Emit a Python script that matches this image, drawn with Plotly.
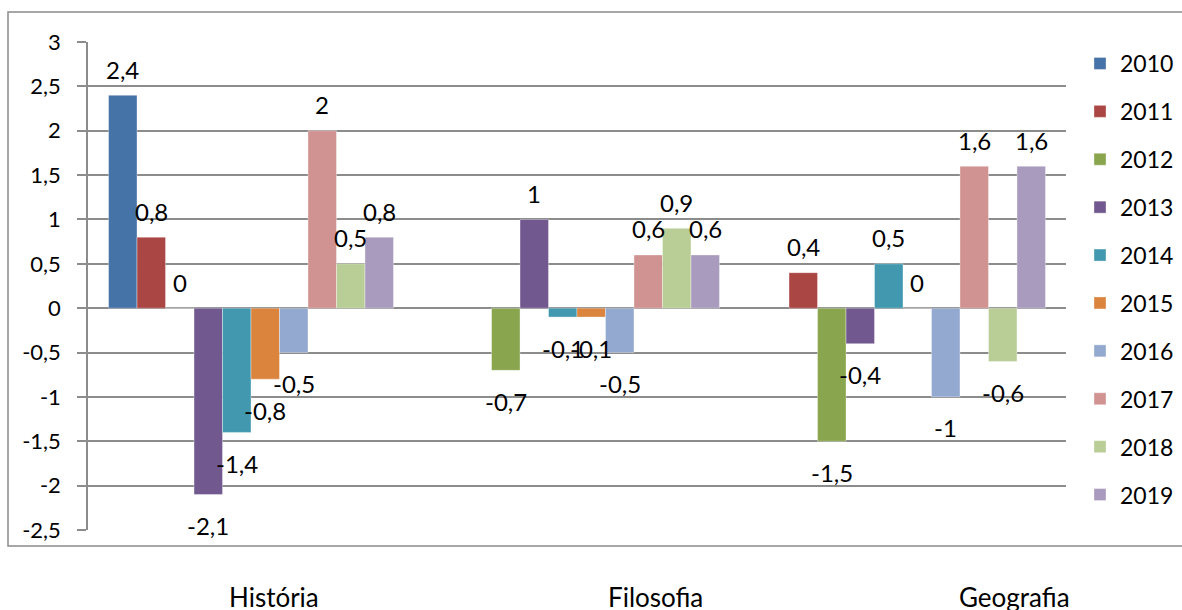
import plotly.graph_objects as go

# ---- data ----
categories = ["História", "Filosofia", "Geografia"]
years = ["2010", "2011", "2012", "2013", "2014", "2015", "2016", "2017", "2018", "2019"]
v2010 = [2.4, None, None]
v2011 = [0.8, None, 0.4]
v2012 = [0, -0.7, -1.5]
v2013 = [-2.1, 1, -0.4]
v2014 = [-1.4, -0.1, 0.5]
v2015 = [-0.8, -0.1, 0]
v2016 = [-0.5, -0.5, -1]
v2017 = [2, 0.6, 1.6]
v2018 = [0.5, 0.9, -0.6]
v2019 = [0.8, 0.6, 1.6]
series = [v2010, v2011, v2012, v2013, v2014, v2015, v2016, v2017, v2018, v2019]
colors = ["#4572A7", "#AA4643", "#89A54E", "#71588F", "#4198AF",
          "#DB843D", "#93A9CF", "#D19392", "#B9CD96", "#A99BBD"]
y_tickvals = [3, 2.5, 2, 1.5, 1, 0.5, 0, -0.5, -1, -1.5, -2, -2.5]
y_ticktext = ["3", "2,5", "2", "1,5", "1", "0,5", "0", "-0,5", "-1", "-1,5", "-2", "-2,5"]

# ---- layout constants ----
W, H = 1182, 610
ML, MR, MT, MB = 88, 116, 42, 80
PW, PH = W - ML - MR, H - MT - MB
BARGAP = 0.126
FONT = "Lato"
CAT_LABEL_X = [274, 655, 1014]   # pixel centres of the category captions below the frame
CAT_LABEL_Y = 597


def fmt(v):
    return ("%g" % v).replace(".", ",")


fig = go.Figure()
for name, vals, col in zip(years, series, colors):
    fig.add_trace(go.Bar(
        name=name, x=categories, y=vals, marker_color=col,
        marker_line=dict(color="rgba(255,255,255,0.45)", width=0.8),
        legendgroup=name,
    ))

# data labels (Excel style "outside end")
slot = PW / len(categories) * (1 - BARGAP) / len(series)
annotations = []
for i, (vals, name) in enumerate(zip(series, years)):
    for cat, v in zip(categories, vals):
        if v is None:
            continue
        annotations.append(dict(
            x=cat, y=v, xref="x", yref="y", text=fmt(v), showarrow=False,
            xshift=(i - (len(series) - 1) / 2) * slot,
            yshift=26 if v >= 0 else -31,
            font=dict(family=FONT, size=24, color="black"),
        ))

# category captions under the chart frame (pixel -> paper fractions)
for cat, px in zip(categories, CAT_LABEL_X):
    annotations.append(dict(
        x=(px - ML) / PW, y=(H - CAT_LABEL_Y - MB) / PH, xref="paper", yref="paper",
        text=cat, showarrow=False, xanchor="center", yanchor="middle",
        font=dict(family=FONT, size=26, color="black"),
    ))

# outer chart border (extends past right edge)
fig.add_shape(type="rect", xref="paper", yref="paper",
              x0=(8 - ML) / PW, x1=(W + 10 - ML) / PW,
              y0=(H - MB - 546) / PH, y1=(H - MB - 12) / PH,
              line=dict(color="#8a8a8a", width=1.5), fillcolor="rgba(0,0,0,0)",
              layer="below")

fig.update_layout(
    width=W, height=H,
    margin=dict(l=ML, r=MR, t=MT, b=MB, autoexpand=False),
    paper_bgcolor="white", plot_bgcolor="white",
    barmode="group", bargap=BARGAP, bargroupgap=0,
    font=dict(family=FONT, color="black"),
    annotations=annotations,
    showlegend=True,
    legend=dict(
        xref="container", yref="container",
        x=1080 / W, y=1 - 42 / H, xanchor="left", yanchor="top",
        font=dict(family=FONT, size=23, color="black"),
        traceorder="grouped", tracegroupgap=15,
        bgcolor="rgba(0,0,0,0)", borderwidth=0,
        itemwidth=30, maxheight=560,
    ),
    xaxis=dict(
        type="category", showgrid=False, showline=False, ticks="",
        showticklabels=False, zeroline=False,
    ),
    yaxis=dict(
        range=[-2.5, 3], tickvals=y_tickvals, ticktext=y_ticktext,
        showgrid=True, gridcolor="#8c8c8c", gridwidth=1.5,
        zeroline=True, zerolinecolor="#8c8c8c", zerolinewidth=1.5,
        showline=True, linecolor="#8c8c8c", linewidth=1.5,
        ticks="outside", ticklen=9, tickcolor="#8c8c8c", tickwidth=1.5,
        tickfont=dict(family=FONT, size=22, color="black"),
        ticklabelstandoff=12,
    ),
)

fig.write_html("out.html",
               config={"displayModeBar": False},
               post_script="document.body.style.margin='0';document.body.style.overflow='hidden';")
